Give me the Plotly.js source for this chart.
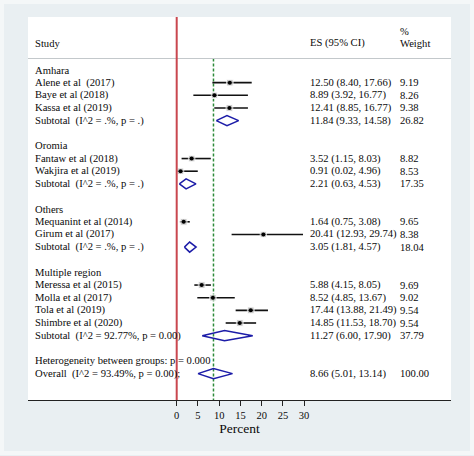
<!DOCTYPE html>
<html>
<head>
<meta charset="utf-8">
<script src="https://cdn.plot.ly/plotly-3.0.1.min.js"></script>
<style>
html,body{margin:0;padding:0;background:#e9eff2;}
#chart{width:474px;height:456px;}
</style>
</head>
<body>
<div id="chart"></div>
<script>
// ---- data ----
const groups = ["Amhara", "Oromia", "Others", "Multiple region"];
const groupSizes = [3, 2, 2, 4];
const studies = ["Alene et al\u00a0 (2017)", "Baye et al (2018)", "Kassa et al (2019)",
  "Fantaw et al (2018)", "Wakjira et al (2019)",
  "Mequanint et al (2014)", "Girum et al (2017)",
  "Meressa et al (2015)", "Molla et al (2017)", "Tola et al (2019)", "Shimbre et al (2020)"];
const es = [12.50, 8.89, 12.41, 3.52, 0.91, 1.64, 20.41, 5.88, 8.52, 17.44, 14.85];
const lo = [8.40, 3.92, 8.85, 1.15, 0.02, 0.75, 12.93, 4.15, 4.85, 13.88, 11.53];
const hi = [17.66, 16.77, 16.77, 8.03, 4.96, 3.08, 29.74, 8.05, 13.67, 21.49, 18.70];
const wt = [9.19, 8.26, 9.38, 8.82, 8.53, 9.65, 8.38, 9.69, 9.02, 9.54, 9.54];
const subLabels = ["Subtotal\u00a0 (I^2 = .%, p = .)", "Subtotal\u00a0 (I^2 = .%, p = .)",
  "Subtotal\u00a0 (I^2 = .%, p = .)", "Subtotal\u00a0 (I^2 = 92.77%, p = 0.00)"];
const subEs = [11.84, 2.21, 3.05, 11.27];
const subLo = [9.33, 0.63, 1.81, 6.00];
const subHi = [14.58, 4.53, 4.57, 17.90];
const subWt = [26.82, 17.35, 18.04, 37.79];
const hetLabel = "Heterogeneity between groups: p = 0.000";
const overallLabel = "Overall\u00a0 (I^2 = 93.49%, p = 0.00);";
const overallEs = 8.66, overallLo = 5.01, overallHi = 13.14, overallWt = 100.00;
const xTicks = [0, 5, 10, 15, 20, 25, 30];

// ---- layout constants ----
const W = 474, H = 456;
const mL = 28, mR = 23, mT = 17, mB = 56;
const rowPx = 12.65;
const firstRowPx = 70;  // pixel of row 0
const plotH = H - mT - mB, plotW = W - mL - mR;
const yTop = (mT - firstRowPx) / rowPx;
const yBot = (H - mB - firstRowPx) / rowPx;
const pxPerUnit = 4.247;
const x0px = 176.7;
const xMin = (mL - x0px) / pxPerUnit;
const xMax = (W - mR - x0px) / pxPerUnit;
const px2paper = p => (p - mL) / plotW;
const row = p => (p - firstRowPx) / rowPx;

const font = "'Liberation Serif', 'Times New Roman', serif";
const txtColor = "#0a0a0a";
const fs = 10.6;

// ---- build rows ----
const ann = [];
function addText(txt, xp, y) {
  ann.push({text: txt, x: px2paper(xp), xref: "paper", y: y, yref: "y",
    xanchor: "left", yanchor: "middle", showarrow: false,
    font: {family: font, size: fs, color: txtColor}});
}
const colStudy = 33, colEs = 308, colWt = 398;
const fmt = v => v.toFixed(2);

const ciX = [], ciY = [], ptX = [], ptY = [], boxS = [];
const dX = [], dY = [];
function diamond(l, e, h, r) {
  dX.push(l, e, h, e, l, null);
  dY.push(r, r - 0.4, r, r + 0.4, r, null);
}

let r = 0, k = 0;
groups.forEach((g, gi) => {
  addText(g, colStudy, r); r++;
  for (let j = 0; j < groupSizes[gi]; j++, k++) {
    addText(studies[k], colStudy, r);
    addText(fmt(es[k]) + " (" + fmt(lo[k]) + ", " + fmt(hi[k]) + ")", colEs, r);
    addText(fmt(wt[k]), colWt, r);
    ciX.push(lo[k], hi[k], null); ciY.push(r, r, null);
    ptX.push(es[k]); ptY.push(r); boxS.push(2.2 * Math.sqrt(wt[k]));
    r++;
  }
  addText(subLabels[gi], colStudy, r);
  addText(fmt(subEs[gi]) + " (" + fmt(subLo[gi]) + ", " + fmt(subHi[gi]) + ")", colEs, r);
  addText(fmt(subWt[gi]), colWt, r);
  diamond(subLo[gi], subEs[gi], subHi[gi], r);
  r += 2;
});
addText(hetLabel, colStudy, r); r++;
addText(overallLabel, colStudy, r);
addText(fmt(overallEs) + " (" + fmt(overallLo) + ", " + fmt(overallHi) + ")", colEs, r);
addText(fmt(overallWt), colWt, r);
diamond(overallLo, overallEs, overallHi, r);

// header
addText("Study", colStudy, row(43));
addText("ES (95% CI)", colEs, row(43));
addText("%", colWt, row(31));
addText("Weight", colWt, row(43));
const sepRow = row(58.5);

const traces = [
  {x: ciX, y: ciY, mode: "lines", line: {color: "#111", width: 1.6}, hoverinfo: "skip"},
  {x: ptX, y: ptY, mode: "markers", marker: {symbol: "square", size: boxS, color: "#b5b5b5"}, hoverinfo: "skip"},
  {x: ptX, y: ptY, mode: "markers", marker: {symbol: "circle", size: 4, color: "#000"}, hoverinfo: "skip"},
  {x: dX, y: dY, mode: "lines", line: {color: "#1c1ca8", width: 1.5}, hoverinfo: "skip"}
];

const layout = {
  width: W, height: H,
  margin: {l: mL, r: mR, t: mT, b: mB, pad: 0},
  paper_bgcolor: "#e9eff2",
  plot_bgcolor: "#ffffff",
  showlegend: false,
  font: {family: font, color: txtColor},
  xaxis: {range: [xMin, xMax], autorange: false, tickvals: xTicks, ticktext: xTicks.map(String),
    ticks: "outside", ticklen: 5, tickwidth: 1, tickcolor: "#222",
    showline: true, linecolor: "#222", linewidth: 1, showgrid: false, zeroline: false,
    tickfont: {family: font, size: 10.5, color: txtColor},
    title: {text: "Percent", font: {family: font, size: 13.5, color: txtColor}, standoff: 2}},
  yaxis: {range: [yBot, yTop], autorange: false, visible: false, showgrid: false, zeroline: false},
  annotations: ann,
  shapes: [
    {type: "line", xref: "paper", x0: 0, x1: 1, yref: "y", y0: sepRow, y1: sepRow,
      line: {color: "#c3c8cb", width: 1}},
    {type: "line", xref: "x", x0: 0, x1: 0, yref: "paper", y0: 0, y1: 1,
      line: {color: "#c9474f", width: 2}},
    {type: "line", xref: "x", x0: overallEs, x1: overallEs, yref: "y", y0: sepRow, y1: yBot,
      line: {color: "#2e8b3a", width: 1.5, dash: "3px,2px"}, layer: "below"},
    {type: "rect", xref: "paper", yref: "paper",
      x0: (2 - mL) / plotW, x1: (W - 2 - mL) / plotW,
      y0: -(mB - 3) / plotH, y1: 1 + (mT - 2) / plotH,
      line: {color: "#f4f7f8", width: 4}}
  ]
};

Plotly.newPlot("chart", traces, layout, {displayModeBar: false, staticPlot: true});
</script>
</body>
</html>
